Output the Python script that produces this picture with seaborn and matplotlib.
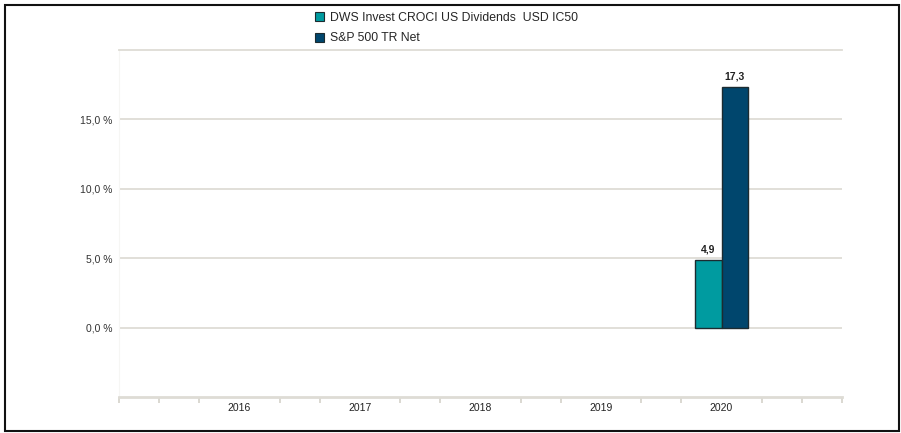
import numpy as np
import pandas as pd
import matplotlib.pyplot as plt
import matplotlib.patches as mpatches
import seaborn as sns

sns.set_style('white')
plt.rcParams['font.family'] = ['Liberation Sans', 'DejaVu Sans']

years = ['2016', '2017', '2018', '2019', '2020']
dws = [np.nan, np.nan, np.nan, np.nan, 4.9]
sp500 = [np.nan, np.nan, np.nan, np.nan, 17.3]
series = ['DWS Invest CROCI US Dividends  USD IC50', 'S&P 500 TR Net']
colors = ['#009ba0', '#00466d']

df = pd.DataFrame({
    'year': years * 2,
    'value': dws + sp500,
    'series': [series[0]] * len(years) + [series[1]] * len(years),
})

grid_col = '#dedcd5'
fig = plt.figure(figsize=(9.01, 4.33), dpi=100)
ax = fig.add_axes([119 / 901, 36 / 433, 723 / 901, 347 / 433])
sns.barplot(data=df, x='year', y='value', hue='series', hue_order=series,
            palette=colors, order=years, width=0.44, edgecolor='#1c2b30',
            linewidth=1.0, saturation=1, legend=False, ax=ax)

ax.set_xlim(-1, 5)
ax.set_ylim(-5, 20)
ax.set_yticks([0, 5, 10, 15])
ax.set_yticklabels([f'{v:.1f} %'.replace('.', ',') for v in [0, 5, 10, 15]])
ax.yaxis.grid(True, color=grid_col, linewidth=1.3)
ax.set_axisbelow(True)
ax.tick_params(axis='y', length=0, labelsize=7.5, labelcolor='#333333', pad=5)
ax.tick_params(axis='x', which='major', length=0, labelsize=7.5, labelcolor='#222222', pad=4)
minor = [-1 + k / 3 for k in range(19) if k % 3 or k in (0, 18)]
ax.set_xticks(minor, minor=True)
ax.tick_params(axis='x', which='minor', bottom=True, length=4, width=1.2,
               color='#d4d2ca', direction='out')
ax.set_xlabel('')
ax.set_ylabel('')
ax.spines['right'].set_visible(False)
ax.spines['top'].set_color(grid_col)
ax.spines['top'].set_linewidth(1.3)
ax.spines['bottom'].set_color(grid_col)
ax.spines['bottom'].set_linewidth(2)
ax.spines['left'].set_color('#f6f6f4')
ax.spines['left'].set_linewidth(0.8)

for cont in ax.containers:
    labels = ['' if np.isnan(v) else f'{v:.1f}'.replace('.', ',') for v in cont.datavalues]
    ax.bar_label(cont, labels=labels, padding=4, fontsize=7.5, fontweight='bold', color='#222222')

handles = [mpatches.Patch(facecolor=c, edgecolor='#1c2b30', linewidth=0.8) for c in colors]
fig.legend(handles, series, loc='upper left', bbox_to_anchor=(310 / 901, 1 - 7 / 433),
           frameon=False, fontsize=8.8, handlelength=0.75, handleheight=0.75,
           handletextpad=0.45, labelspacing=0.7, borderaxespad=0)

fig.patches.append(mpatches.Rectangle((4.5 / 901, 2 / 433), 894 / 901, 426.5 / 433,
                                      transform=fig.transFigure, fill=False,
                                      edgecolor='#111111', linewidth=1.5))
fig.savefig('out.png', dpi=100)
